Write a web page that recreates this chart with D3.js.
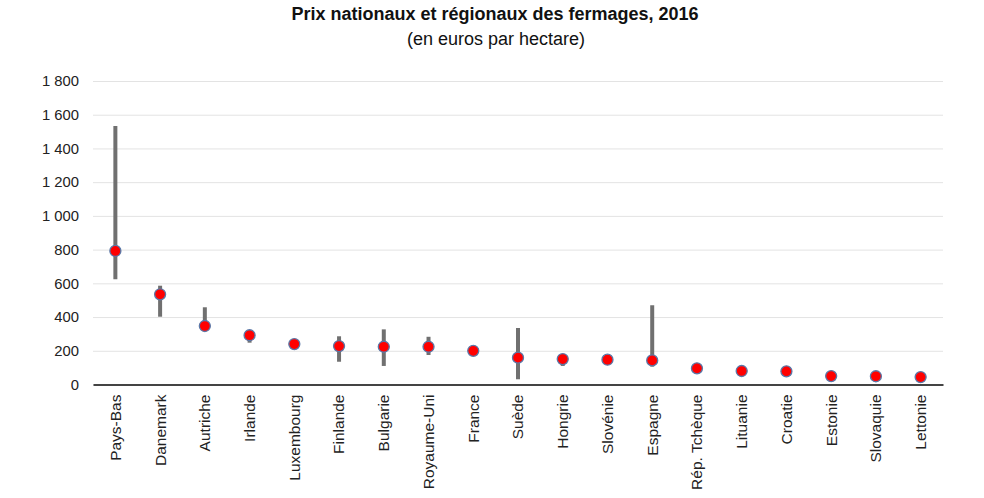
<!DOCTYPE html>
<html><head><meta charset="utf-8">
<script src="https://cdn.jsdelivr.net/npm/d3@7/dist/d3.min.js"></script>
<style>body{margin:0;background:#fff;font-family:"Liberation Sans",Arial,sans-serif;}</style>
</head><body><svg id="c" width="984" height="498"></svg>
<script>
const countries = ["Pays-Bas","Danemark","Autriche","Irlande","Luxembourg","Finlande","Bulgarie","Royaume-Uni","France","Suède","Hongrie","Slovénie","Espagne","Rép. Tchèque","Lituanie","Croatie","Estonie","Slovaquie","Lettonie"];
const national = [792,535,347,292,240,228,224,224,200,159,151,147,143,96,80,78,50,49,44];
const regionalMin = [624,402,319,248,240,135,110,175,200,31,110,147,106,96,80,78,50,49,44];
const regionalMax = [1533,586,458,300,240,286,327,283,200,335,165,147,470,96,80,78,50,80,44];
const yTicks = [0,200,400,600,800,1000,1200,1400,1600,1800];

const svg = d3.select("#c");
const m = {left:93, right:41, top:81, bottom:113.5};
const W = 984, H = 498;
const x = d3.scaleBand().domain(countries).range([m.left, W-m.right]);
const y = d3.scaleLinear().domain([0,1800]).range([H-m.bottom, m.top]);
const fmt = v => d3.format(",")(v).replace(/,/g, " ");
const FF = "Liberation Sans, Arial, sans-serif";

svg.append("text").attr("x", 495).attr("y", 20).attr("text-anchor","middle")
  .style("font-weight","bold").style("font-size","18px").style("font-family",FF).attr("fill","#111")
  .text("Prix nationaux et régionaux des fermages, 2016");
svg.append("text").attr("x", 496).attr("y", 45).attr("text-anchor","middle")
  .style("font-size","18px").style("font-family",FF).attr("fill","#111").text("(en euros par hectare)");

const ya = svg.append("g").attr("transform",`translate(${m.left},0)`)
  .call(d3.axisLeft(y).tickValues(yTicks).tickFormat(fmt).tickSize(-(W-m.left-m.right)).tickPadding(14));
ya.select(".domain").remove();
ya.selectAll(".tick line").attr("stroke","#e3e3e3").attr("stroke-width",1);
ya.selectAll(".tick text").style("font-size","14.8px").attr("fill","#222").style("font-family",FF);

const xa = svg.append("g").attr("transform",`translate(0,${y(0)})`)
  .call(d3.axisBottom(x).tickSize(0).tickPadding(0));
xa.select(".domain").attr("stroke","#444").attr("stroke-width",2);
xa.selectAll(".tick text").attr("transform","rotate(-90)").attr("text-anchor","end")
  .attr("x",-10).attr("y",0).attr("dy","0.35em")
  .style("font-size","15.5px").attr("fill","#222").style("font-family",FF);

const cx = c => x(c) + x.bandwidth()/2;
svg.append("g").selectAll("line").data(countries).join("line")
  .attr("x1", cx).attr("x2", cx)
  .attr("y1", (c,i)=>y(regionalMin[i])).attr("y2", (c,i)=>y(regionalMax[i]))
  .attr("stroke","#707070").attr("stroke-width",4);
svg.append("g").selectAll("circle").data(countries).join("circle")
  .attr("cx", cx).attr("cy", (c,i)=>y(national[i])).attr("r",5.5)
  .attr("fill","#ff0000").attr("stroke","#5a78a8").attr("stroke-width",1.3);
</script></body></html>
